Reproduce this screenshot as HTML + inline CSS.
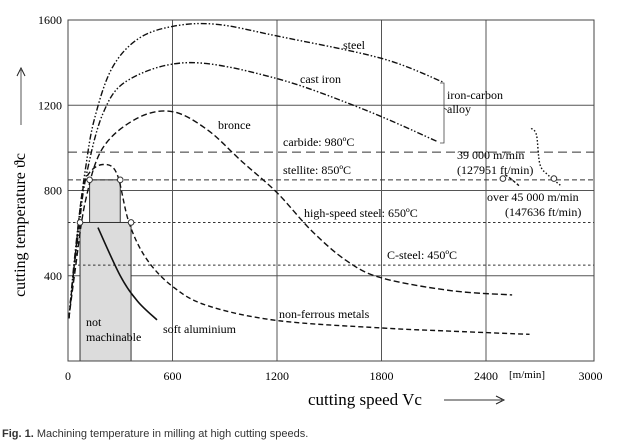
<!DOCTYPE html>
<html><head><meta charset="utf-8"><style>
html,body{margin:0;padding:0;background:#fff;}
svg{display:block;font-family:"Liberation Serif",serif;}
</style></head><body>
<svg id="chart" width="624" height="448" viewBox="0 0 624 448" xmlns="http://www.w3.org/2000/svg">
<g id="grid"></g>
<g id="boxes"></g>
<g id="refs"></g>
<g id="series"></g>
<g id="labels"></g>
<rect x="68" y="20" width="526" height="341" fill="none" stroke="#444" stroke-width="1"/>
<text transform="translate(25,225) rotate(-90)" text-anchor="middle" font-size="16">cutting temperature ϑc</text>
<line x1="21" y1="125" x2="21" y2="70" stroke="#555" stroke-width="1"/>
<path d="M17,76 L21,68 L25,76" fill="none" stroke="#222" stroke-width="1"/>
<text x="308" y="405" font-size="17">cutting speed Vc</text>
<line x1="444" y1="400" x2="502" y2="400" stroke="#333" stroke-width="1"/>
<path d="M496,396 L504,400 L496,404" fill="none" stroke="#222" stroke-width="1"/>
<text x="509" y="378" font-size="11">[m/min]</text>
<text x="2" y="437" font-family="Liberation Sans, sans-serif" font-size="11" fill="#333"><tspan font-weight="bold">Fig. 1.</tspan> Machining temperature in milling at high cutting speeds.</text>
</svg>
<script>
const xTicks=[0,600,1200,1800,2400,3000];
const yTicks=[400,800,1200,1600];
const steelS=[5,30,60,100,150,250,400,600,850,1200,1800,2150];
const steelT=[200,420,650,900,1130,1370,1510,1570,1580,1525,1420,1310];
const castS=[5,30,60,100,200,350,700,1200,1700,2120];
const castT=[200,400,600,850,1160,1320,1400,1325,1180,1030];
const bronceS=[5,40,100,200,400,600,800,1000,1200,1400,1600,1800,2200,2550];
const bronceT=[200,420,750,1000,1140,1170,1085,935,790,610,470,390,330,310];
const nfS=[5,40,80,120,200,280,350,450,600,800,1200,1800,2200,2650];
const nfT=[200,480,780,880,922,880,650,480,350,260,190,155,140,125];
const aluS=[172,300,400,511];
const aluT=[626,400,280,193];
const hs39S=[2509,2550,2589];
const hs39T=[875,850,823];
const hs45S=[2660,2690,2710,2760,2836];
const hs45T=[1092,1060,922,870,819];
const refT=[980,850,650,450];
const refDash=["9,5","5,3","2.5,2.5","2.5,2.5"];
const boxS=[[69,362],[124,300]];
const boxT=[[0,650],[650,850]];
const markS=[124,300,69,362,2497,2790];
const markT=[850,850,650,650,856,856];
const NS="http://www.w3.org/2000/svg";
const X=s=>68+s*104.5/600, Y=t=>361-t*85.25/400;
function mk(p,tag,a){const e=document.createElementNS(NS,tag);for(const k in a)e.setAttribute(k,a[k]);document.getElementById(p).appendChild(e);return e;}
function path(S,T){let d="M"+X(S[0])+","+Y(T[0]);for(let i=1;i<S.length;i++){const x0=X(S[i-1]),y0=Y(T[i-1]),x1=X(S[i]),y1=Y(T[i]);const xp=X(S[Math.max(0,i-2)]),yp=Y(T[Math.max(0,i-2)]),xn=X(S[Math.min(S.length-1,i+1)]),yn=Y(T[Math.min(S.length-1,i+1)]);d+=` C${x0+(x1-xp)/6},${y0+(y1-yp)/6} ${x1-(xn-x0)/6},${y1-(yn-y0)/6} ${x1},${y1}`;}return d;}
xTicks.forEach((v,i)=>{if(v>0&&v<3000){const l=mk("grid","line",{x1:X(v),x2:X(v),y1:20,y2:361,stroke:"#555","stroke-width":1});

}
const t=mk("grid","text",{x:X(v),y:380,"text-anchor":"middle","font-size":12});t.textContent=v;

});
yTicks.forEach(v=>{if(v<1600){const l=mk("grid","line",{x1:68,x2:594,y1:Y(v),y2:Y(v),stroke:"#555","stroke-width":1});

}
const t=mk("grid","text",{x:62,y:Y(v)+4,"text-anchor":"end","font-size":12});t.textContent=v;

});
boxS.forEach((b,i)=>{const r=mk("boxes","rect",{x:X(b[0]),y:Y(boxT[i][1]),width:X(b[1])-X(b[0]),height:Y(boxT[i][0])-Y(boxT[i][1]),fill:"#dcdcdc",stroke:"#333","stroke-width":1});

});
refT.forEach((v,i)=>{const l=mk("refs","line",{x1:68,x2:594,y1:Y(v),y2:Y(v),stroke:"#333","stroke-width":1,"stroke-dasharray":refDash[i]});

});
const ser=[["steel-curve",steelS,steelT,"6,2,1.5,2,1.5,2"],["cast-iron-curve",castS,castT,"6,2,1.5,2,1.5,2"],["bronce-curve",bronceS,bronceT,"6,3"],["non-ferrous-curve",nfS,nfT,"5,3"],["soft-aluminium-curve",aluS,aluT,"none"],["hsc-39000-curve",hs39S,hs39T,"3,2"],["hsc-45000-curve",hs45S,hs45T,"1.5,2"]];
ser.forEach(s=>{const p=mk("series","path",{d:path(s[1],s[2]),fill:"none",stroke:"#111","stroke-width":s[0]=="soft-aluminium-curve"?1.6:1.4,"stroke-dasharray":s[3]});

});
markS.forEach((s,i)=>{const c=mk("series","circle",{cx:X(s),cy:Y(markT[i]),r:2.8,fill:"#fff",stroke:"#333","stroke-width":1});

});
const br=mk("labels","path",{d:"M440,83 L444,83 L444,143 L440,143 M444,108 L447,110",fill:"none",stroke:"#444","stroke-width":0.8});


const L=[["steel-label",343,49,"steel"],["cast-iron-label",300,83,"cast iron"],["iron-carbon-label",447,99,"iron-carbon"],["alloy-label",447,113,"alloy"],["bronce-label",218,129,"bronce"],["carbide-label",283,146,"carbide: 980ºC"],["stellite-label",283,174,"stellite: 850ºC"],["hss-label",304,217,"high-speed steel: 650ºC"],["c-steel-label",387,259,"C-steel: 450ºC"],["non-ferrous-label",279,318,"non-ferrous metals"],["soft-aluminium-label",163,333,"soft aluminium"],["not-label",86,326,"not"],["machinable-label",86,341,"machinable"],["speed-39000-label",457,159,"39 000 m/min"],["speed-39000-ft-label",457,174,"(127951 ft/min)"],["speed-45000-label",487,201,"over 45 000 m/min"],["speed-45000-ft-label",505,216,"(147636 ft/min)"]];
L.forEach(l=>{const t=mk("labels","text",{x:l[1],y:l[2],"font-size":12});t.textContent=l[3];

});
</script>
</body></html>
